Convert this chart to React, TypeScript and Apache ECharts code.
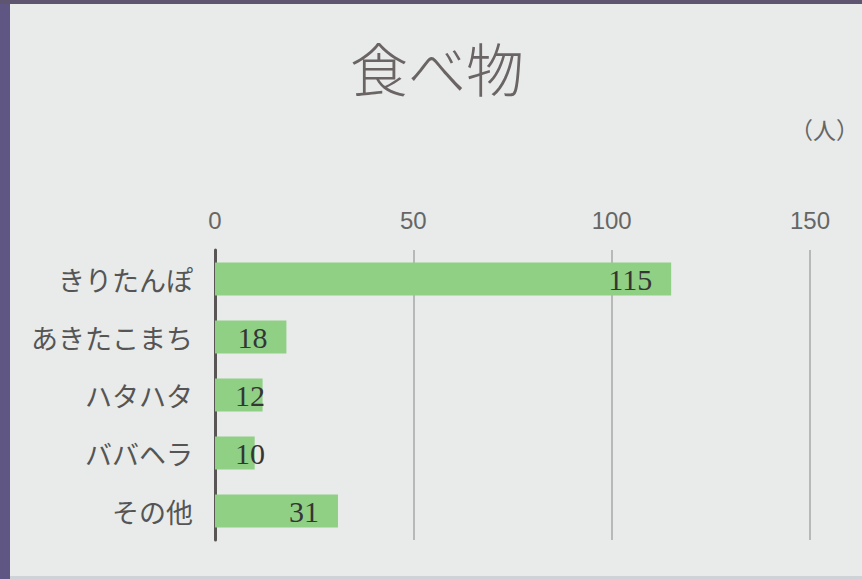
import React, { useEffect, useRef } from "react";
import * as echarts from "echarts";

const categories = ["きりたんぽ", "あきたこまち", "ハタハタ", "ババヘラ", "その他"];
const values = [115, 18, 12, 10, 31];
const xTicks = [0, 50, 100, 150];
const titleText = "食べ物";
const unitText = "（人）";

export default function App() {
  const ref = useRef<HTMLDivElement>(null);
  useEffect(() => {
    document.body.style.margin = "0";
    const chart = echarts.init(ref.current!, null, { renderer: "svg" });
    const data = values.map((v) => {
      const small = v < 15;
      return {
        value: v,
        label: small
          ? { position: "insideLeft", distance: 20 }
          : { position: "insideRight", distance: 19 },
      };
    });
    chart.setOption({
      animation: false,
      backgroundColor: "#e8ebe9",
      graphic: [
        { type: "rect", shape: { x: 0, y: 0, width: 10, height: 579 }, style: { fill: "#5f5683" }, z: 10 },
        { type: "rect", shape: { x: 0, y: 0, width: 862, height: 4 }, style: { fill: "#5e5570" }, z: 10 },
        { type: "rect", shape: { x: 10, y: 576, width: 852, height: 3 }, style: { fill: "#cfd2d6" }, z: 10 },
        {
          type: "text",
          left: 350,
          top: 38,
          style: { text: titleText, fontSize: 58, fill: "#6a6464", fontFamily: "Noto Sans CJK JP", fontWeight: 300 },
        },
        {
          type: "text",
          left: 790,
          top: 117,
          style: { text: unitText, fontSize: 23, fill: "#666", fontFamily: "Noto Sans CJK JP" },
        },
      ],
      grid: { left: 215, right: 52, top: 250, bottom: 39, containLabel: false },
      xAxis: {
        type: "value",
        position: "top",
        min: xTicks[0],
        max: xTicks[xTicks.length - 1],
        interval: 50,
        axisLine: { show: false },
        axisTick: { show: false },
        axisLabel: { color: "#666", fontSize: 24, margin: 18, fontFamily: "Liberation Sans" },
        splitLine: { show: true, lineStyle: { color: "#a7a7a7", width: 1.5 } },
      },
      yAxis: {
        type: "category",
        inverse: true,
        data: categories,
        axisLine: { show: true, lineStyle: { color: "#5a5555", width: 3 } },
        axisTick: { show: false },
        axisLabel: { color: "#555", fontSize: 27, margin: 22, fontFamily: "Noto Sans CJK JP" },
      },
      series: [
        {
          type: "bar",
          data,
          barWidth: 33,
          itemStyle: { color: "#90d085" },
          label: {
            show: true,
            color: "#353535",
            fontSize: 30,
            fontFamily: "Liberation Serif",
          },
        },
      ],
    });
    return () => chart.dispose();
  }, []);
  return <div ref={ref} style={{ position: "fixed", left: 0, top: 0, width: 862, height: 579 }} />;
}
